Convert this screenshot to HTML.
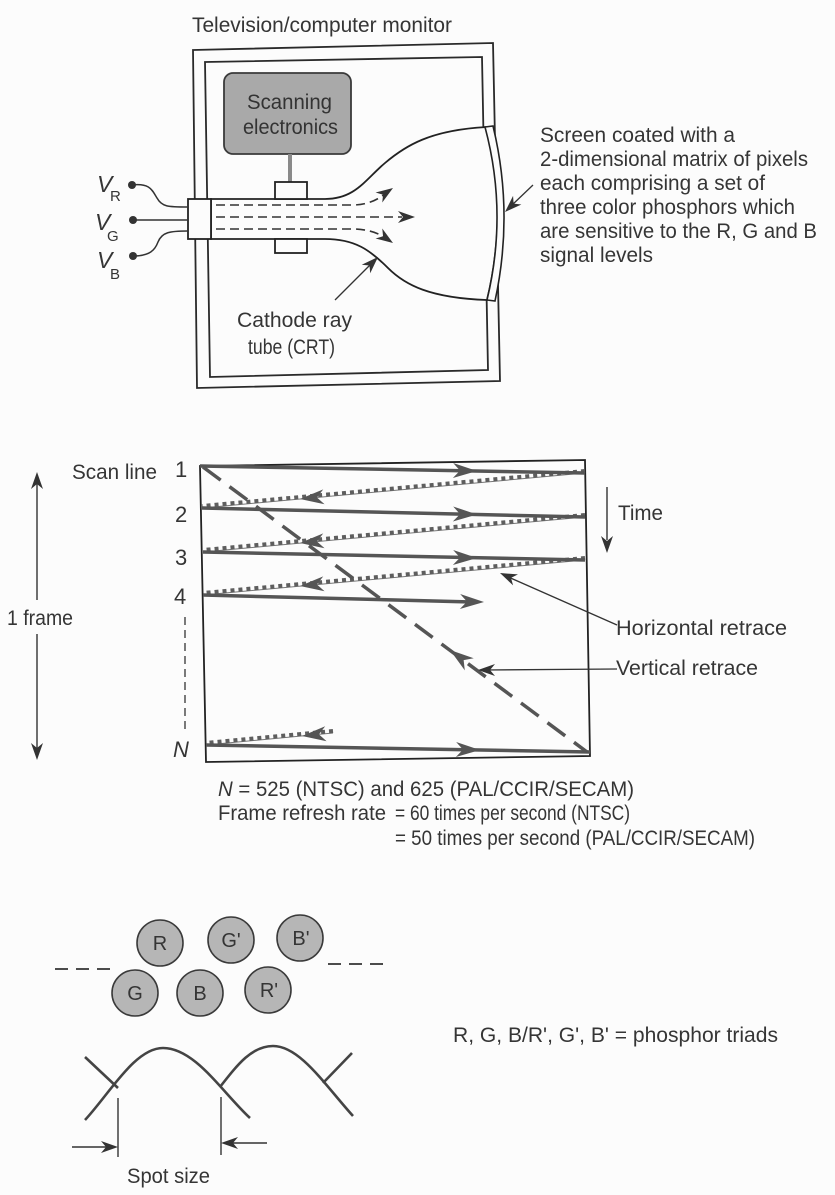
<!DOCTYPE html>
<html>
<head>
<meta charset="utf-8">
<style>
html,body{margin:0;padding:0;background:#fcfcfc;}
svg{display:block;}
text{font-family:"Liberation Sans",sans-serif;fill:#353535;}
</style>
</head>
<body>
<svg width="835" height="1195" viewBox="0 0 835 1195" xmlns="http://www.w3.org/2000/svg">
<defs>
<path id="ah" d="M0,0 L-17,-6 L-12,0 L-17,6 Z"/>
<path id="ahB" d="M0,0 L-24,-7.5 L-17,0 L-24,7.5 Z"/>
</defs>
<rect width="835" height="1195" fill="#fcfcfc"/>

<!-- ============ TOP: CRT monitor ============ -->
<text x="192" y="32" font-size="21" textLength="260" lengthAdjust="spacingAndGlyphs">Television/computer monitor</text>

<polygon points="193,50 493,43 500,381 197,388" fill="none" stroke="#2a2a2a" stroke-width="1.8"/>
<polygon points="205,62 482,57 488,370 210,377" fill="none" stroke="#2a2a2a" stroke-width="1.8"/>

<!-- scanning electronics -->
<rect x="224" y="73" width="127" height="81" rx="9" fill="#a9a9a9" stroke="#3a3a3a" stroke-width="1.8"/>
<text x="247" y="109" font-size="21" textLength="85" lengthAdjust="spacingAndGlyphs" style="fill:#333">Scanning</text>
<text x="243" y="134" font-size="21" textLength="95" lengthAdjust="spacingAndGlyphs" style="fill:#333">electronics</text>
<line x1="290" y1="154" x2="290" y2="183" stroke="#8a8a8a" stroke-width="4"/>

<!-- tube -->
<path d="M211,199 L325,199 C355,199 365,180 385,163 C405,146 430,130 487,127 Q508,213 487,300 C430,298 405,285 388,268 C370,250 355,239 325,239 L211,239 Z" fill="#fcfcfc" stroke="#222" stroke-width="1.8"/>
<path d="M485,127 L493,126 Q514,213 495,301 L487,300 Q508,213 485,127 Z" fill="#fcfcfc" stroke="#222" stroke-width="1.6"/>
<rect x="188" y="199" width="23" height="40" fill="#fcfcfc" stroke="#222" stroke-width="1.8"/>
<rect x="275" y="182" width="32" height="17" fill="#fcfcfc" stroke="#222" stroke-width="1.8"/>
<rect x="275" y="239" width="32" height="14" fill="#fcfcfc" stroke="#222" stroke-width="1.8"/>

<!-- beams -->
<g fill="none" stroke="#333" stroke-width="1.6" stroke-dasharray="9 5">
<path d="M216,205 L352,205 Q372,205 386,193"/>
<path d="M216,217 L402,217"/>
<path d="M216,229 L352,229 Q372,229 386,238"/>
</g>
<g fill="#333">
<use href="#ah" transform="translate(393,188) rotate(-34)"/>
<use href="#ah" transform="translate(415,217)"/>
<use href="#ah" transform="translate(393,243) rotate(34)"/>
</g>

<!-- V inputs -->
<g fill="none" stroke="#333" stroke-width="1.5">
<path d="M132,185 C150,183 152,190 157,198 C162,207 168,207 188,207"/>
<path d="M133,220 L188,220"/>
<path d="M133,256 C150,256 155,250 158,242 C162,232 170,231 188,231"/>
</g>
<g fill="#333">
<circle cx="132" cy="185" r="4"/>
<circle cx="133" cy="220" r="4"/>
<circle cx="133" cy="256" r="4"/>
</g>
<text x="97" y="192" font-size="23" font-style="italic">V</text>
<text x="110" y="201" font-size="15">R</text>
<text x="95" y="230" font-size="23" font-style="italic">V</text>
<text x="107" y="241" font-size="15">G</text>
<text x="97" y="268" font-size="23" font-style="italic">V</text>
<text x="110" y="279" font-size="15">B</text>

<!-- CRT label + pointer -->
<line x1="335" y1="300" x2="372" y2="263" stroke="#333" stroke-width="1.3"/>
<use href="#ah" fill="#333" transform="translate(378,257) rotate(-45)"/>
<text x="237" y="327" font-size="21" textLength="115" lengthAdjust="spacingAndGlyphs">Cathode ray</text>
<text x="248" y="354" font-size="21" textLength="87" lengthAdjust="spacingAndGlyphs">tube (CRT)</text>

<!-- screen label + pointer -->
<line x1="533" y1="185" x2="511" y2="206" stroke="#333" stroke-width="1.3"/>
<use href="#ah" fill="#333" transform="translate(505,212) rotate(136)"/>
<text x="540" y="142" font-size="21" textLength="195" lengthAdjust="spacingAndGlyphs">Screen coated with a</text>
<text x="540" y="166" font-size="21" textLength="268" lengthAdjust="spacingAndGlyphs">2-dimensional matrix of pixels</text>
<text x="540" y="190" font-size="21" textLength="225" lengthAdjust="spacingAndGlyphs">each comprising a set of</text>
<text x="540" y="214" font-size="21" textLength="255" lengthAdjust="spacingAndGlyphs">three color phosphors which</text>
<text x="540" y="238" font-size="21" textLength="277" lengthAdjust="spacingAndGlyphs">are sensitive to the R, G and B</text>
<text x="540" y="262" font-size="21" textLength="113" lengthAdjust="spacingAndGlyphs">signal levels</text>

<!-- ============ MIDDLE: scan diagram ============ -->
<polygon points="200,466 585,460 590,756 206,762" fill="none" stroke="#222" stroke-width="1.8"/>

<!-- retrace dotted lines -->
<g fill="none">
<g stroke="#777" stroke-width="1">
<line x1="585" y1="473" x2="202" y2="508"/>
<line x1="585" y1="517" x2="203" y2="552"/>
<line x1="585" y1="560" x2="203" y2="595"/>
<line x1="333" y1="733" x2="206" y2="745"/>
</g>
<g stroke="#5e5e5e" stroke-width="4" stroke-dasharray="4 4">
<line x1="585" y1="471" x2="202" y2="506"/>
<line x1="585" y1="515" x2="203" y2="550"/>
<line x1="585" y1="558" x2="203" y2="593"/>
<line x1="333" y1="731" x2="206" y2="743"/>
</g>
</g>

<!-- scan lines -->
<g stroke="#555" stroke-width="3.5" fill="none">
<line x1="200" y1="466" x2="585" y2="473"/>
<line x1="202" y1="508" x2="585" y2="517"/>
<line x1="203" y1="552" x2="585" y2="560"/>
<line x1="203" y1="595" x2="472" y2="602"/>
<line x1="206" y1="745" x2="590" y2="752"/>
<line x1="203" y1="467" x2="587" y2="752" stroke-dasharray="22 11"/>
</g>
<g fill="#555">
<use href="#ahB" transform="translate(477,471) rotate(1.1)"/>
<use href="#ahB" transform="translate(477,514.5) rotate(1.3)"/>
<use href="#ahB" transform="translate(477,558) rotate(1.2)"/>
<use href="#ahB" transform="translate(484,602) rotate(1.2)"/>
<use href="#ahB" transform="translate(480,750) rotate(1.1)"/>
<use href="#ahB" transform="translate(300,499) rotate(174.8)"/>
<use href="#ahB" transform="translate(300,543) rotate(174.8)"/>
<use href="#ahB" transform="translate(300,586) rotate(174.8)"/>
<use href="#ahB" transform="translate(302,736) rotate(174.6)"/>
<use href="#ahB" transform="translate(450,650) rotate(216.6)"/>
</g>

<!-- labels on left -->
<text x="72" y="479" font-size="21" textLength="85" lengthAdjust="spacingAndGlyphs">Scan line</text>
<text x="175" y="477" font-size="22">1</text>
<text x="175" y="522" font-size="22">2</text>
<text x="175" y="565" font-size="22">3</text>
<text x="174" y="604" font-size="22">4</text>
<text x="173" y="757" font-size="22" font-style="italic">N</text>
<line x1="185" y1="617" x2="185" y2="733" stroke="#333" stroke-width="1.3" stroke-dasharray="8 5"/>

<!-- 1 frame double arrow -->
<line x1="37" y1="480" x2="37" y2="600" stroke="#333" stroke-width="1.4"/>
<line x1="37" y1="634" x2="37" y2="752" stroke="#333" stroke-width="1.4"/>
<use href="#ah" fill="#333" transform="translate(37,472) rotate(-90)"/>
<use href="#ah" fill="#333" transform="translate(37,760) rotate(90)"/>
<text x="7" y="625" font-size="21" textLength="66" lengthAdjust="spacingAndGlyphs">1 frame</text>

<!-- Time -->
<line x1="607" y1="487" x2="607" y2="540" stroke="#333" stroke-width="1.4"/>
<use href="#ah" fill="#333" transform="translate(607,553) rotate(90)"/>
<text x="618" y="520" font-size="21" textLength="45" lengthAdjust="spacingAndGlyphs">Time</text>

<!-- retrace pointers -->
<line x1="617" y1="625" x2="506" y2="576" stroke="#333" stroke-width="1.3"/>
<use href="#ah" fill="#333" transform="translate(500,573) rotate(204)"/>
<text x="616" y="635" font-size="21" textLength="171" lengthAdjust="spacingAndGlyphs">Horizontal retrace</text>
<line x1="617" y1="669" x2="485" y2="670" stroke="#333" stroke-width="1.3"/>
<use href="#ah" fill="#333" transform="translate(478,670) rotate(180)"/>
<text x="616" y="675" font-size="21" textLength="142" lengthAdjust="spacingAndGlyphs">Vertical retrace</text>

<!-- formulas -->
<text x="218" y="796" font-size="21" textLength="416" lengthAdjust="spacingAndGlyphs"><tspan font-style="italic">N</tspan> = 525 (NTSC) and 625 (PAL/CCIR/SECAM)</text>
<text x="218" y="820" font-size="21" textLength="168" lengthAdjust="spacingAndGlyphs">Frame refresh rate</text>
<text x="395" y="820" font-size="21" textLength="235" lengthAdjust="spacingAndGlyphs">= 60 times per second (NTSC)</text>
<text x="395" y="845" font-size="21" textLength="360" lengthAdjust="spacingAndGlyphs">= 50 times per second (PAL/CCIR/SECAM)</text>

<!-- ============ BOTTOM: phosphors ============ -->
<g stroke="#333" stroke-width="1.8" stroke-dasharray="13 8">
<line x1="55" y1="969" x2="110" y2="969"/>
<line x1="328" y1="964" x2="383" y2="964"/>
</g>
<g fill="#b6b6b6" stroke="#3a3a3a" stroke-width="1.6">
<circle cx="160" cy="943" r="23"/>
<circle cx="231" cy="940" r="23"/>
<circle cx="300" cy="938" r="23"/>
<circle cx="135" cy="993" r="23"/>
<circle cx="200" cy="993" r="23"/>
<circle cx="268" cy="990" r="23"/>
</g>
<g font-size="20" text-anchor="middle">
<text x="160" y="950">R</text>
<text x="231" y="947">G'</text>
<text x="301" y="945">B'</text>
<text x="135" y="1000">G</text>
<text x="200" y="1000">B</text>
<text x="269" y="997">R'</text>
</g>

<!-- bell curves -->
<g fill="none" stroke="#444" stroke-width="2.6">
<path d="M85,1120 C110,1093 135,1048 163,1048 C195,1048 222,1092 250,1118"/>
<path d="M85,1057 Q100,1071 118,1088"/>
<path d="M220,1087 C238,1064 252,1046 273,1046 C300,1046 325,1085 353,1116"/>
<path d="M352,1053 L323,1083"/>
</g>

<!-- spot size -->
<g stroke="#333" stroke-width="1.4">
<line x1="118" y1="1098" x2="118" y2="1157"/>
<line x1="221" y1="1097" x2="221" y2="1155"/>
<line x1="72" y1="1147" x2="106" y2="1147"/>
<line x1="267" y1="1143" x2="233" y2="1143"/>
</g>
<use href="#ah" fill="#333" transform="translate(118,1147)"/>
<use href="#ah" fill="#333" transform="translate(221,1143) rotate(180)"/>
<text x="127" y="1183" font-size="21" textLength="83" lengthAdjust="spacingAndGlyphs">Spot size</text>

<text x="453" y="1042" font-size="21" textLength="325" lengthAdjust="spacingAndGlyphs">R, G, B/R', G', B' = phosphor triads</text>
</svg>
</body>
</html>
